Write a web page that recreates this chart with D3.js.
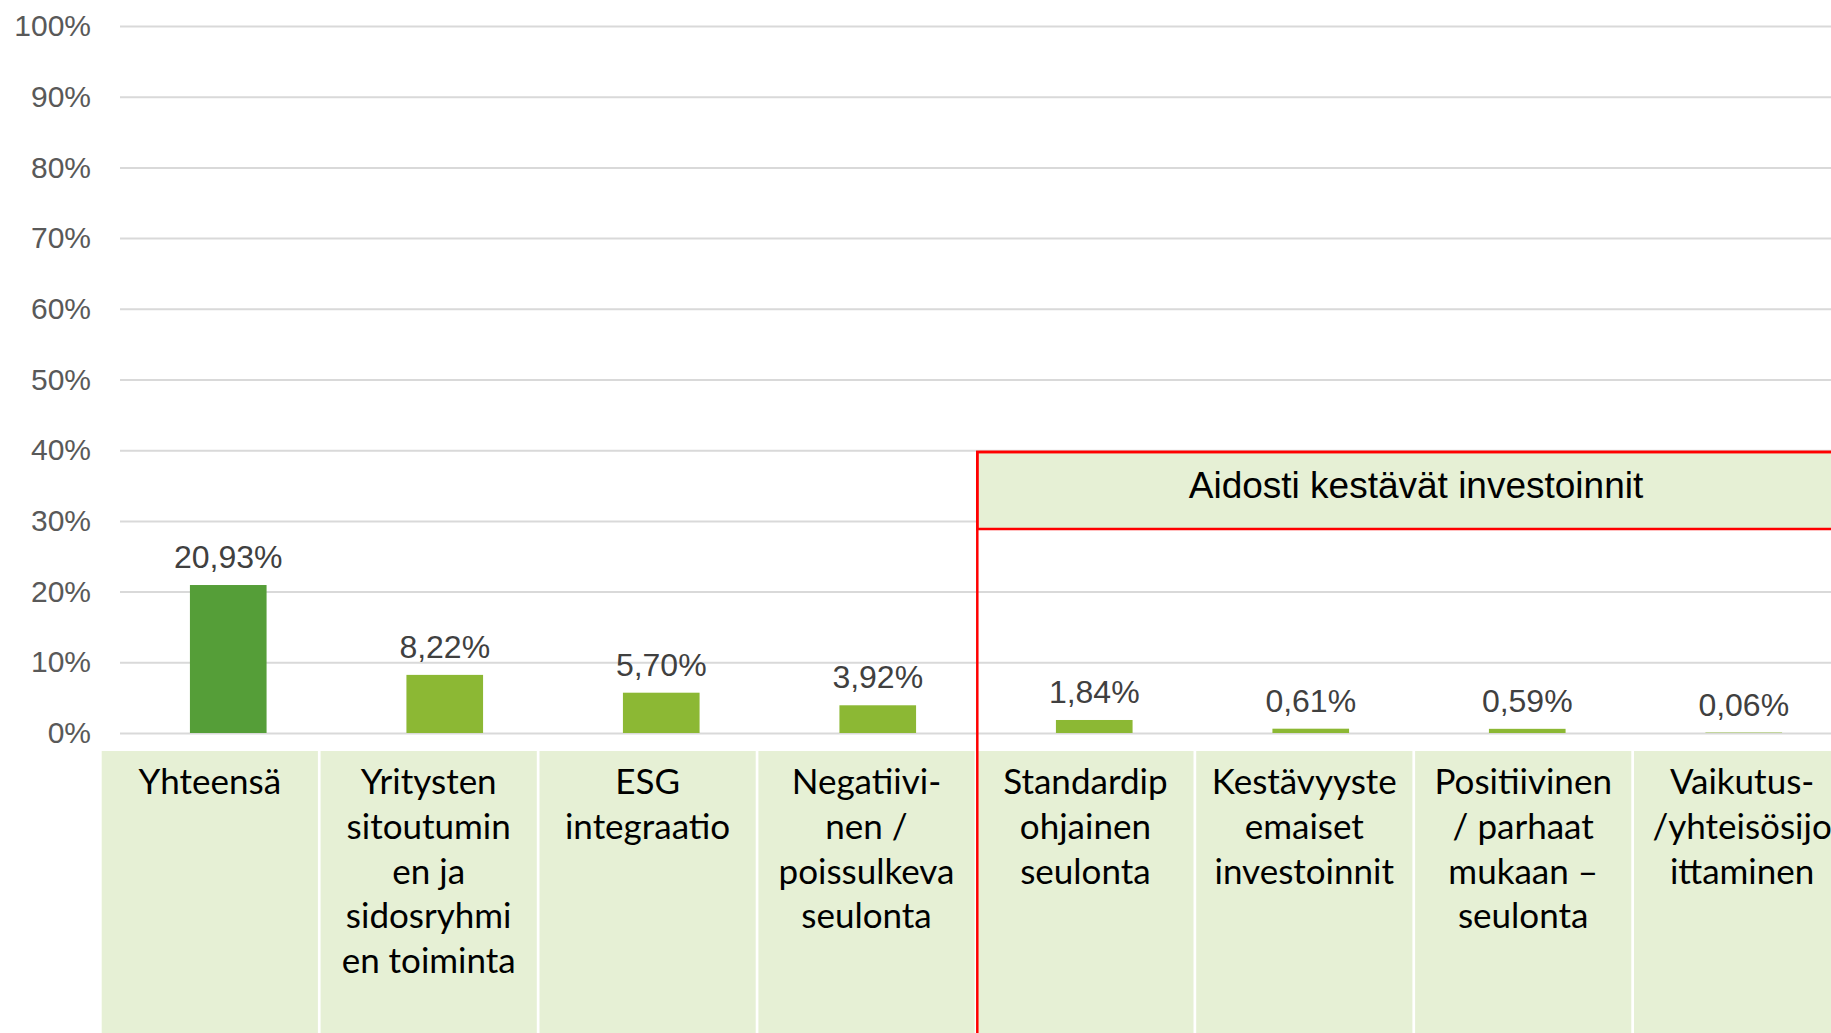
<!DOCTYPE html>
<html>
<head>
<meta charset="utf-8">
<script src="https://cdn.jsdelivr.net/npm/d3@7"></script>
<style>
  html, body { margin: 0; padding: 0; background: #fff; overflow: hidden; }
  svg { display: block; }
</style>
</head>
<body>
<svg id="chart" width="1831" height="1033"></svg>
<script>
// chart data
const categories = [
  'Yhteensä',
  'Yritysten sitoutuminen ja sidosryhmien toiminta',
  'ESG integraatio',
  'Negatiivinen / poissulkeva seulonta',
  'Standardipohjainen seulonta',
  'Kestävyysteemaiset investoinnit',
  'Positiivinen / parhaat mukaan – seulonta',
  'Vaikutus-/yhteisösijoittaminen'
]
const values = [20.93, 8.22, 5.70, 3.92, 1.84, 0.61, 0.59, 0.06]
const categoryLines = [
  ['Yhteensä'],
  ['Yritysten', 'sitoutumin', 'en ja', 'sidosryhmi', 'en toiminta'],
  ['ESG', 'integraatio'],
  ['Negatiivi-', 'nen /', 'poissulkeva', 'seulonta'],
  ['Standardip', 'ohjainen', 'seulonta'],
  ['Kestävyyste', 'emaiset', 'investoinnit'],
  ['Positiivinen', '/ parhaat', 'mukaan –', 'seulonta'],
  ['Vaikutus-', '/yhteisösijo', 'ittaminen']
]
const yTicks = [0, 10, 20, 30, 40, 50, 60, 70, 80, 90, 100]
const groupLabel = 'Aidosti kestävät investoinnit'
const groupStart = 4

const width = 1831
const height = 1033
const margin = { top: 26, left: 120, bottom: 733 }
const plotRight = 1852

const fi = d3.formatLocale({ decimal: ',', thousands: ' ', grouping: [3], currency: ['', '€'] })
const pct = v => fi.format('.2f')(v) + '%'

const svg = d3.select('#chart')

const x = d3.scaleBand()
  .domain(categories)
  .range([margin.left, plotRight])
  .paddingInner(0.646)
  .paddingOuter(0.323)

const y = d3.scaleLinear()
  .domain([0, 100])
  .range([margin.bottom, margin.top])

// label table under the plot
const table = d3.scaleBand()
  .domain(categories)
  .range([101.7, 101.7 + 218.9 * categories.length])
  .paddingInner(0)

// gridlines + y labels
const yAxis = svg.append('g')
  .attr('transform', 'translate(' + margin.left + ',0)')
  .call(d3.axisLeft(y)
    .tickValues(yTicks)
    .tickSize(-(plotRight - margin.left))
    .tickPadding(29)
    .tickFormat(d => d + '%'))
yAxis.select('.domain').remove()
yAxis.selectAll('line')
  .attr('stroke', '#d9d9d9')
  .attr('stroke-width', 2)
yAxis.selectAll('text')
  .attr('fill', '#595959')
  .attr('font-family', 'Liberation Sans, Arial, sans-serif')
  .attr('font-size', 30)

// bars
svg.append('g')
  .selectAll('rect')
  .data(values)
  .enter().append('rect')
  .attr('x', (d, i) => x(categories[i]))
  .attr('y', d => y(d))
  .attr('width', x.bandwidth())
  .attr('height', d => y(0) - y(d))
  .attr('fill', (d, i) => i === 0 ? '#559e38' : '#8cb834')

// value labels
svg.append('g')
  .attr('font-family', 'Liberation Sans, Arial, sans-serif')
  .attr('font-size', 32)
  .attr('fill', '#404040')
  .attr('text-anchor', 'middle')
  .selectAll('text')
  .data(values)
  .enter().append('text')
  .text(d => pct(d))
  .attr('x', (d, i) => x(categories[i]) + x.bandwidth() / 2)
  .attr('y', d => y(d) - 17)

// category cells
const cells = svg.append('g')
  .selectAll('g')
  .data(categories)
  .enter().append('g')
  .attr('transform', d => 'translate(' + table(d) + ',751)')

cells.append('rect')
  .attr('width', table.bandwidth() - 2.7)
  .attr('height', height)
  .attr('fill', '#e6f0d5')

cells.append('text')
  .attr('font-family', 'Lato, sans-serif')
  .attr('font-size', 35)
  .attr('fill', '#000')
  .attr('text-anchor', 'middle')
  .selectAll('tspan')
  .data((d, i) => categoryLines[i])
  .enter().append('tspan')
  .attr('x', (table.bandwidth() - 2.7) / 2)
  .attr('y', (d, i) => 43 + i * 44.8)
  .text(d => d)

// group box for the truly sustainable investments
const gx = table(categories[groupStart])
svg.append('rect')
  .attr('x', gx)
  .attr('y', 452)
  .attr('width', width)
  .attr('height', 77)
  .attr('fill', '#e6f0d5')
  .attr('stroke', '#ff0000')
  .attr('stroke-width', 2.5)
svg.append('rect')
  .attr('x', gx)
  .attr('y', 452)
  .attr('width', width)
  .attr('height', height)
  .attr('fill', 'none')
  .attr('stroke', '#ff0000')
  .attr('stroke-width', 2.5)
svg.append('text')
  .text(groupLabel)
  .attr('x', 1416)
  .attr('y', 498)
  .attr('text-anchor', 'middle')
  .attr('font-family', 'Liberation Sans, Arial, sans-serif')
  .attr('font-size', 37)
  .attr('fill', '#000')
</script>
</body>
</html>
